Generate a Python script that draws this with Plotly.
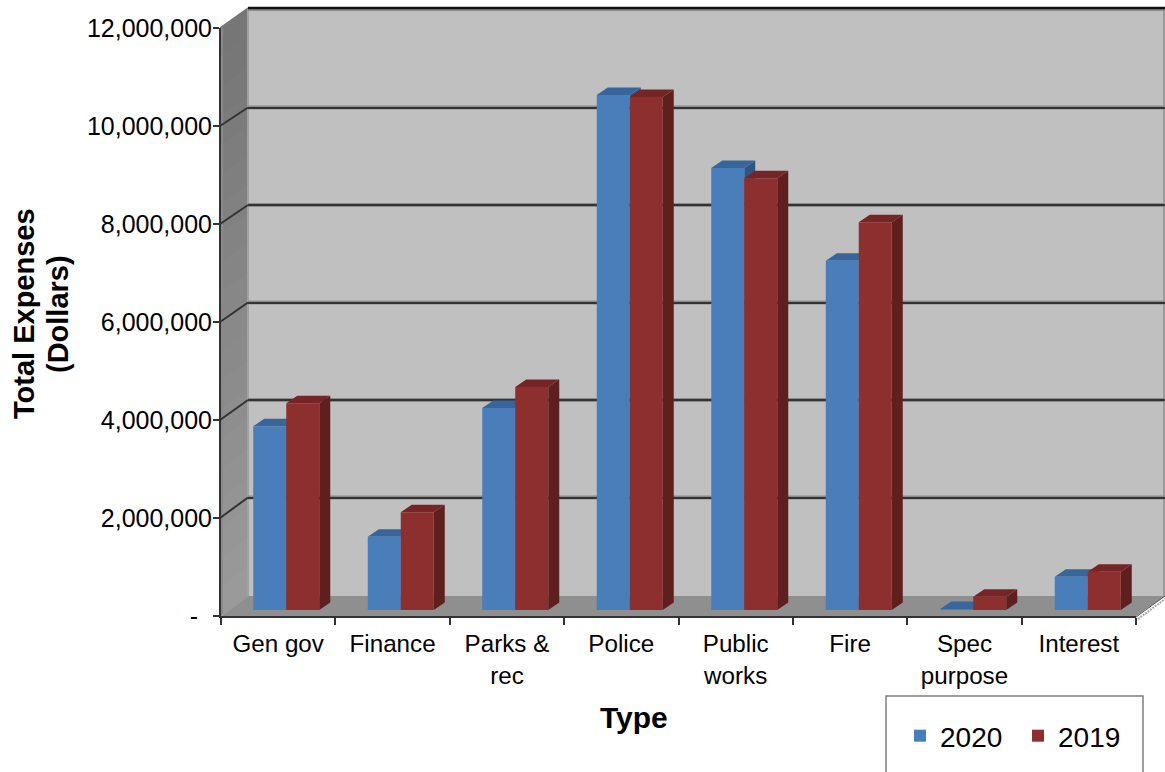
import plotly.graph_objects as go

categories = ["Gen gov", "Finance", "Parks &<br>rec", "Police", "Public<br>works", "Fire", "Spec<br>purpose", "Interest"]
series_names = ["2020", "2019"]
values_2020 = [3760000, 1500000, 4130000, 10530000, 9040000, 7140000, 20000, 680000]
values_2019 = [4230000, 2000000, 4560000, 10490000, 8830000, 7930000, 270000, 780000]
y_ticks = [0, 2000000, 4000000, 6000000, 8000000, 10000000, 12000000]
y_labels = ["-\u00a0\u00a0", "2,000,000", "4,000,000", "6,000,000", "8,000,000", "10,000,000", "12,000,000"]

W, H = 1165, 772
FONT = "Liberation Sans, Arial, sans-serif"
def X(p): return p / W
def Y(p): return 1 - p / H

n = len(categories)
centers = [i + 0.5 for i in range(n)]
CAT_PX = 114.5
PX_PER_UNIT = 48.9 / 1e6
bar_w = 33 / CAT_PX
dx = 11 / CAT_PX
dy = 7.5 / PX_PER_UNIT

def side_poly(right_edges, vals):
    xs, ys = [], []
    for r, v in zip(right_edges, vals):
        xs += [r, r + dx, r + dx, r, r, None]
        ys += [0, dy, v + dy, v, 0, None]
    return xs, ys

def top_poly(left_edges, right_edges, vals):
    xs, ys = [], []
    for l, r, v in zip(left_edges, right_edges, vals):
        xs += [l, l + dx, r + dx, r, l, None]
        ys += [v, v + dy, v + dy, v, v, None]
    return xs, ys

fig = go.Figure()

# subplot 1: back wall grid (needs a trace for the axes to exist)
fig.add_trace(go.Scatter(x=[0], y=[0], xaxis="x", yaxis="y", mode="markers",
                         marker=dict(opacity=0), showlegend=False, hoverinfo="skip"))

def face(poly, color):
    fig.add_trace(go.Scatter(x=poly[0], y=poly[1], xaxis="x2", yaxis="y2", mode="lines",
                             fill="toself", fillcolor=color, line=dict(width=0, color=color),
                             showlegend=False, hoverinfo="skip"))

left = [c - bar_w for c in centers]
right = [c + bar_w for c in centers]
face(side_poly(centers, values_2020), "#2f5680")
face(top_poly(left, centers, values_2020), "#38659a")
face(side_poly(right, values_2019), "#5f1f1f")
face(top_poly(centers, right, values_2019), "#752525")

fig.add_trace(go.Bar(x=centers, y=values_2020, name=series_names[0], xaxis="x3", yaxis="y3",
                     marker=dict(color="#4a7ebb", line=dict(width=0)), hoverinfo="skip"))
fig.add_trace(go.Bar(x=centers, y=values_2019, name=series_names[1], xaxis="x3", yaxis="y3",
                     marker=dict(color="#8e2f2f", line=dict(width=0)), hoverinfo="skip"))

# front axes
fig.add_trace(go.Scatter(x=[0], y=[0], xaxis="x4", yaxis="y4", mode="markers",
                         marker=dict(opacity=0), showlegend=False, hoverinfo="skip"))

shapes = []
def path(points, fill=None, line=None, lw=0, layer="below", dash="solid"):
    d = "M" + "L".join(f"{X(px)},{Y(py)}" for px, py in points)
    if fill:
        d += "Z"
    shapes.append(dict(type="path", xref="paper", yref="paper", path=d, layer=layer,
                       fillcolor=fill if fill else "rgba(0,0,0,0)",
                       line=dict(width=lw, color=line if line else "rgba(0,0,0,0)", dash=dash)))

# back wall
path([(248, 8), (1165, 8), (1165, 596), (248, 596)], fill="#c0c0c0")
# left wall, darker at the top, lighter at the bottom
bands = 20
for b in range(bands):
    t0, t1 = b / bands, (b + 1) / bands
    c = int(0x76 + (0x9c - 0x76) * t0)
    path([(220, 28 + t0 * 589), (248, 8 + t0 * 588), (248, 8 + t1 * 588 + 1), (220, 28 + t1 * 589 + 1)],
         fill=f"rgb({c},{c},{c})")
# floor
path([(220, 617), (1135, 617), (1165, 596), (248, 596)], fill="#8f8f8f")
path([(248, 8), (248, 596)], line="#a2a2a2", lw=2)
path([(1164, 8), (1164, 596)], line="#8f8f8f", lw=1.5)
path([(222, 28), (222, 616)], line="#8a8a8a", lw=2)
path([(220, 28), (248, 8)], line="#777777", lw=1.5)
path([(220, 617), (248, 596)], line="#9a9a9a", lw=1.5)
path([(1136, 617), (1165, 596)], line="#555555", lw=1)
path([(1138, 619), (1165, 599)], line="#a8a8a8", lw=2, dash="2px,1px")
# gridline halo on the back wall, and the side-wall parts of the gridlines
for t in y_ticks[1:-1]:
    frac = t / 12000000
    gy = 595 - 585 * frac
    path([(248, gy), (1165, gy)], line="#8c8c8c", lw=4)
    path([(220, 616 - 588 * frac), (248, gy)], line="#333333", lw=2)
path([(248, 9.5), (1165, 9.5)], line="#8c8c8c", lw=3)
path([(248, 8), (1165, 8)], line="#111111", lw=2.5)
# legend box
path([(886, 780), (886, 696), (1143, 696), (1143, 780)], line="#7f7f7f", lw=1.5, layer="above")

layout = dict(
    width=W, height=H, margin=dict(l=0, r=0, t=0, b=0, pad=0, autoexpand=False),
    paper_bgcolor="white", plot_bgcolor="rgba(0,0,0,0)",
    font=dict(family=FONT, size=25, color="black"),
    barmode="group", bargap=1 - 2 * bar_w, bargroupgap=0,
    shapes=shapes,
    showlegend=True,
    legend=dict(orientation="h", x=X(900), y=Y(736), xanchor="left", yanchor="middle", entrywidth=73,
                bgcolor="rgba(0,0,0,0)", borderwidth=0, font=dict(size=28, family=FONT)),
    annotations=[
        dict(text="<b>Total Expenses</b>", xref="paper", yref="paper", x=X(24), y=Y(314),
             showarrow=False, textangle=-90, font=dict(size=29, family=FONT), xanchor="center", yanchor="middle"),
        dict(text="<b>(Dollars)</b>", xref="paper", yref="paper", x=X(58), y=Y(314),
             showarrow=False, textangle=-90, font=dict(size=29, family=FONT), xanchor="center", yanchor="middle"),
        dict(text="<b>Type</b>", xref="paper", yref="paper", x=X(634), y=Y(717),
             showarrow=False, font=dict(size=30, family=FONT), xanchor="center", yanchor="middle"),
    ],
    # back wall
    xaxis=dict(domain=[X(248), X(1165)], range=[0, 8], visible=False, fixedrange=True),
    yaxis=dict(domain=[Y(595), Y(10)], range=[0, 12000000], showgrid=True, gridcolor="#333333", gridwidth=2,
               tickvals=y_ticks[1:-1], showticklabels=False, ticks="", zeroline=False, showline=False,
               anchor="x", fixedrange=True),
    # bar faces
    xaxis2=dict(domain=[X(229), X(1145)], range=[0, 8], visible=False, anchor="y2", fixedrange=True),
    yaxis2=dict(domain=[Y(610), Y(10)], range=[0, 600 / PX_PER_UNIT], visible=False, anchor="x2", fixedrange=True),
    # bar fronts
    xaxis3=dict(domain=[X(229), X(1145)], range=[0, 8], visible=False, anchor="y3", fixedrange=True),
    yaxis3=dict(domain=[Y(610), Y(10)], range=[0, 600 / PX_PER_UNIT], visible=False, anchor="x3", fixedrange=True),
    # front axes
    xaxis4=dict(domain=[X(221), X(1136)], range=[0, 8], anchor="y4", fixedrange=True,
                tickmode="array", tickvals=centers, ticktext=categories, ticks="", tickangle=0,
                showgrid=False, zeroline=False, showline=True, linecolor="#333333", linewidth=2,
                tickfont=dict(size=24.2, family=FONT), ticklabelstandoff=5,
                minor=dict(tick0=0, dtick=1, ticks="outside", ticklen=7, tickwidth=2, tickcolor="#333333", showgrid=False)),
    yaxis4=dict(domain=[Y(616), Y(28)], range=[0, 12000000], anchor="x4", fixedrange=True,
                tickmode="array", tickvals=y_ticks, ticktext=y_labels, ticks="outside", ticklen=6, tickwidth=2,
                tickcolor="#333333", showgrid=False, zeroline=False, showline=True, linecolor="#333333", linewidth=2,
                tickfont=dict(size=25, family=FONT), ticklabelstandoff=-4),
)
fig.update_layout(**layout)
fig.write_html("out.html", config=dict(displayModeBar=False),
               post_script="document.body.style.margin='0';document.documentElement.style.overflow='hidden';")
